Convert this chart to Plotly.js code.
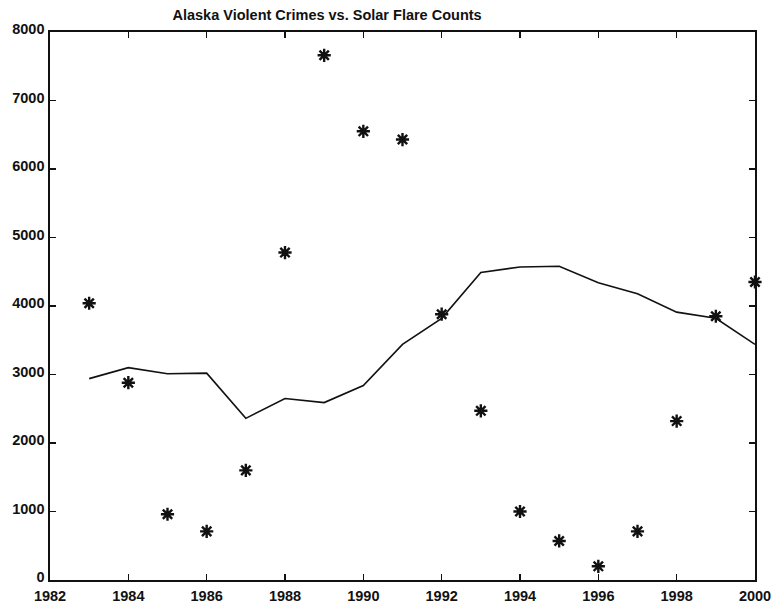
<!DOCTYPE html>
<html><head><meta charset="utf-8">
<script src="https://cdn.plot.ly/plotly-3.0.1.min.js"></script>
<style>html,body{margin:0;padding:0;background:#fff;}</style>
</head><body>
<div id="chart" style="width:772px;height:609px;"></div>
<script>
const years = [1983,1984,1985,1986,1987,1988,1989,1990,1991,1992,1993,1994,1995,1996,1997,1998,1999,2000];
const violentCrimes = [2940,3100,3010,3020,2360,2650,2590,2840,3440,3820,4490,4570,4580,4340,4180,3910,3820,3440];
const solarFlares = [4040,2880,960,710,1600,4780,7660,6550,6430,3880,2470,1000,570,200,710,2320,3850,4350];
const xTicks = [1982,1984,1986,1988,1990,1992,1994,1996,1998,2000];
const yTicks = [0,1000,2000,3000,4000,5000,6000,7000,8000];

const traces = [
  {x: years, y: violentCrimes, type: 'scatter', mode: 'lines',
   line: {color: '#111', width: 1.6}, showlegend: false},
  {x: years, y: solarFlares, type: 'scatter', mode: 'markers',
   marker: {symbol: 'asterisk-open', size: 11, color: '#111', line: {color: '#111', width: 2.4}},
   cliponaxis: false, showlegend: false}
];

const axisCommon = {
  showline: true, mirror: 'ticks', linecolor: '#111', linewidth: 1.6,
  ticks: 'inside', ticklen: 6, tickwidth: 1.4, tickcolor: '#111',
  showgrid: false, zeroline: false,
  tickfont: {family: 'Liberation Sans, Arial, sans-serif', size: 14.5, color: '#111'}
};

const layout = {
  width: 772, height: 609,
  margin: {l: 50, r: 17, t: 32, b: 29},
  paper_bgcolor: '#fff', plot_bgcolor: '#fff',
  title: {text: '<b>Alaska Violent Crimes vs. Solar Flare Counts</b>',
          font: {family: 'Liberation Sans, Arial, sans-serif', size: 14.5, color: '#111'},
          x: 0.393, xref: 'paper', xanchor: 'center', y: 0.975, yref: 'container', yanchor: 'middle'},
  xaxis: Object.assign({}, axisCommon, {range: [1982, 2000], tickvals: xTicks,
          ticktext: xTicks.map(v => '<b>' + v + '</b>'), ticklabelstandoff: 2}),
  yaxis: Object.assign({}, axisCommon, {range: [0, 8000], tickvals: yTicks,
          ticktext: yTicks.map(v => '<b>' + v + '</b>'), ticklabelshift: -3, ticklabelstandoff: 1}),
  showlegend: false
};

Plotly.newPlot('chart', traces, layout, {displayModeBar: false, staticPlot: true});
</script>
</body></html>
